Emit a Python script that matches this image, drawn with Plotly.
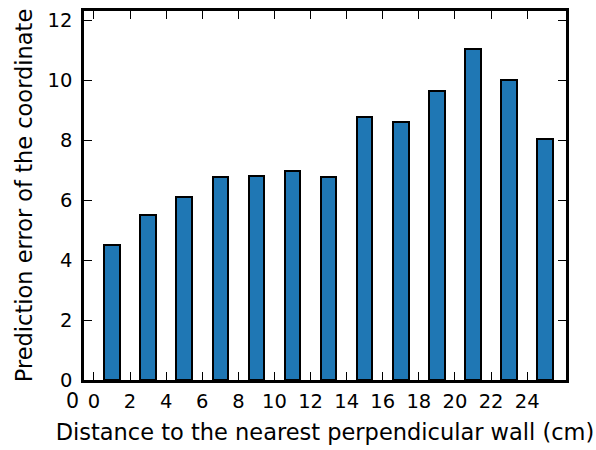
import plotly.graph_objects as go

distance = [1, 3, 5, 7, 9, 11, 13, 15, 17, 19, 21, 23, 25]
error = [4.52, 5.52, 6.11, 6.77, 6.82, 6.99, 6.77, 8.78, 8.60, 9.66, 11.06, 10.01, 8.04]
x_ticks = list(range(0, 25, 2))
y_ticks = list(range(0, 13, 2))

fig = go.Figure()
fig.add_trace(go.Bar(
    x=distance, y=error, width=0.86,
    marker=dict(color="#1f77b4", line=dict(color="black", width=2)),
))

font = dict(family="DejaVu Sans", size=19.5, color="black")
tfont = dict(family="DejaVu Sans", size=22.5, color="black")
fig.update_layout(
    width=596, height=450,
    margin=dict(l=84, r=30, t=8, b=69),
    plot_bgcolor="white", paper_bgcolor="white",
    font=font, showlegend=False, bargap=0,
)
fig.update_xaxes(
    range=[-0.55, 26.15], tickvals=x_ticks, ticktext=[str(v) for v in x_ticks],
    ticks="inside", ticklen=8, tickwidth=1.3, tickcolor="black",
    showline=True, linecolor="black", linewidth=2.5, mirror="ticks",
    showgrid=False, zeroline=False, ticklabelstandoff=2,
    title=dict(text="Distance to the nearest perpendicular wall (cm)", font=tfont, standoff=13),
)
fig.update_yaxes(
    range=[0, 12.32], tickvals=y_ticks, ticktext=[str(v) for v in y_ticks],
    ticks="inside", ticklen=8, tickwidth=1.3, tickcolor="black",
    showline=True, linecolor="black", linewidth=2.5, mirror="ticks",
    showgrid=False, zeroline=False, ticklabelstandoff=5,
    title=dict(text="Prediction error of the coordinate", font=tfont, standoff=9),
)
fig.add_annotation(
    text="0", xref="paper", yref="paper", x=-0.0234, y=-0.058,
    xanchor="center", yanchor="middle", showarrow=False,
    font=dict(family="DejaVu Sans", size=20.5, color="black"),
)
fig.write_html("out.html")
